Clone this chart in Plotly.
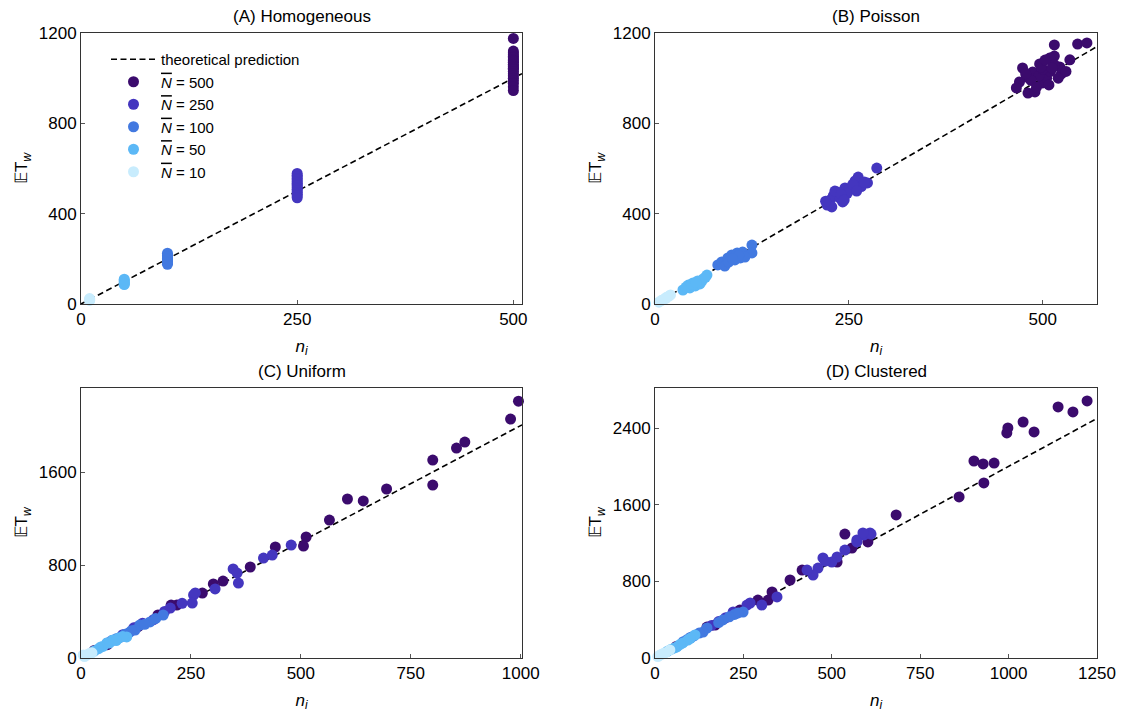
import plotly.graph_objects as go

W, H = 1122, 713
FONT = "Liberation Sans, Arial, sans-serif"

N_LEVELS = [500, 250, 100, 50, 10]
COLORS = {500: "#3b0b6d", 250: "#4436bf", 100: "#4279e0", 50: "#5cb8f6", 10: "#c8ecfd"}
THEORY_SLOPE = 2.0
PANEL_TITLES = ["(A) Homogeneous", "(B) Poisson", "(C) Uniform", "(D) Clustered"]

# ---------------- (A) Homogeneous: n_i == N ----------------
A_y = {
    500: [1176, 1120, 1112, 1104, 1096, 1090, 1082, 1076, 1070, 1062, 1055, 1050, 1044, 1038,
          1030, 1020, 1010, 1000, 990, 978, 962, 945],
    250: [578, 570, 563, 556, 549, 541, 535, 528, 522, 515, 508, 500, 493, 486, 478, 470],
    100: [225, 216, 208, 201, 195, 188, 181, 176],
    50: [110, 104, 99, 94, 89, 86],
    10: [24, 21, 18, 16],
}

# ---------------- (B) Poisson ----------------
B_x = {
    500: [515, 545, 557, 535, 515, 509, 474, 496, 487, 479, 470, 466, 481, 490, 500, 524, 522,
          505, 495, 510, 500, 485, 492, 515, 530, 498, 478, 520, 508, 503, 512],
    250: [286, 274, 262, 254, 245, 242, 235, 226, 222, 228, 230, 238, 250, 258, 266, 220, 232,
          248, 270, 240, 255, 244, 260],
    100: [81, 86, 94, 99, 106, 113, 110, 125, 125, 90, 103, 116, 95, 108, 100],
    50: [36, 43, 49, 55, 62, 67, 52, 58, 45, 40, 47, 60, 65, 53],
    10: [5, 8, 12, 15, 18, 20, 10, 14],
}
B_y = {
    500: [1147, 1151, 1156, 1081, 1098, 1089, 1045, 1063, 1027, 1005, 983, 957, 934, 939, 979,
          1019, 1050, 1000, 1010, 1030, 1040, 990, 960, 1060, 1030, 1050, 1020, 1000, 970, 1080, 1045],
    250: [602, 536, 562, 518, 514, 452, 496, 461, 438, 430, 480, 470, 505, 545, 520, 455, 500,
          490, 540, 485, 530, 460, 500],
    100: [173, 186, 204, 217, 226, 230, 204, 261, 226, 168, 195, 208, 185, 215, 200],
    50: [62, 84, 93, 102, 111, 128, 80, 89, 71, 75, 88, 100, 118, 95],
    10: [8, 15, 22, 30, 35, 40, 18, 25],
}

# ---------------- (C) Uniform ----------------
C_x = {
    500: [995, 977, 873, 854, 800, 800, 695, 642, 606, 565, 512, 506, 442, 385, 323, 301, 276,
          218, 205, 175, 130, 60, 30],
    250: [478, 415, 435, 346, 355, 358, 305, 256, 253, 203, 260, 230, 190, 165, 140, 120, 95],
    100: [187, 157, 134, 123, 170, 145, 110, 100, 90, 80, 70, 60, 115],
    50: [104, 73, 59, 50, 45, 85, 95, 65, 40, 30, 80],
    10: [5, 10, 15, 20, 8, 25],
}
C_y = {
    500: [2210, 2056, 1858, 1806, 1703, 1488, 1454, 1351, 1368, 1187, 1041, 963, 955, 783, 662,
          637, 559, 456, 455, 370, 270, 115, 65],
    250: [972, 860, 886, 766, 731, 645, 594, 542, 473, 430, 560, 470, 400, 330, 300, 260, 200],
    100: [370, 310, 284, 241, 340, 290, 220, 205, 180, 165, 150, 130, 235],
    50: [181, 155, 129, 100, 95, 170, 185, 130, 80, 60, 150],
    10: [26, 20, 30, 40, 12, 45],
}

# ---------------- (D) Clustered ----------------
D_x = {
    500: [1222, 1182, 1140, 1072, 1041, 998, 995, 959, 928, 902, 930, 860, 682, 537, 602, 557,
          515, 416, 382, 331, 320, 291, 240, 170, 147, 100, 60],
    250: [611, 591, 571, 608, 588, 571, 537, 515, 500, 475, 481, 461, 447, 430, 345, 302, 269,
          260, 221, 200, 180, 160],
    100: [249, 235, 225, 210, 192, 180, 147, 136, 125, 110, 100, 90, 80],
    50: [113, 93, 79, 62, 70, 55, 45, 35, 100],
    10: [42, 14, 20, 30, 8, 25],
}
D_y = {
    500: [2683, 2568, 2620, 2359, 2463, 2401, 2349, 2035, 2025, 2056, 1827, 1681, 1493, 1294,
          1211, 1148, 1002, 918, 814, 689, 605, 605, 500, 344, 323, 210, 120],
    250: [1294, 1284, 1232, 1305, 1305, 1211, 1127, 1054, 1002, 1044, 1010, 939, 866, 918, 637,
          553, 574, 553, 480, 420, 380, 340],
    100: [480, 470, 455, 430, 397, 370, 313, 271, 260, 230, 215, 190, 170],
    50: [240, 188, 157, 115, 140, 105, 90, 70, 205],
    10: [84, 31, 40, 55, 15, 50],
}

A_x = {n: [n] * len(A_y[n]) for n in N_LEVELS}
panels = [(A_x, A_y), (B_x, B_y), (C_x, C_y), (D_x, D_y)]

x_ranges = [[0, 510], [0, 570], [0, 1003], [0, 1250]]
y_ranges = [[0, 1200], [0, 1200], [0, 2323], [0, 2818]]
x_ticks = [[0, 250, 500], [0, 250, 500], [0, 250, 500, 750, 1000], [0, 250, 500, 750, 1000, 1250]]
y_ticks = [[0, 400, 800, 1200], [0, 400, 800, 1200], [0, 800, 1600], [0, 800, 1600, 2400]]

# plot-area pixel boxes (left, right, top, bottom)
boxes = [(81, 522, 33, 304), (655, 1097, 33, 304), (81, 522, 388, 658), (655, 1097, 388, 658)]


def fx(px):
    return px / W


def fy(py):
    return 1 - py / H


fig = go.Figure()

for i, (px, py) in enumerate(panels):
    sfx = "" if i == 0 else str(i + 1)
    xa, ya = "x" + sfx, "y" + sfx
    xmax = x_ranges[i][1]
    fig.add_trace(go.Scatter(
        x=[0, xmax], y=[0, THEORY_SLOPE * xmax], mode="lines",
        line=dict(color="black", width=1.6, dash="6px,3.5px"),
        name="theoretical prediction", showlegend=(i == 0), xaxis=xa, yaxis=ya,
        hoverinfo="skip"))
    for n in N_LEVELS:
        fig.add_trace(go.Scatter(
            x=px[n], y=py[n], mode="markers",
            marker=dict(color=COLORS[n], size=11, line=dict(width=0)),
            name="<span style='text-decoration:overline'><i>N</i></span> = %d" % n,
            showlegend=(i == 0), xaxis=xa, yaxis=ya, cliponaxis=False))

axis_common = dict(showline=True, linecolor="#333333", linewidth=1, mirror=True,
                   ticks="inside", ticklen=4, tickcolor="#555555", showgrid=False,
                   zeroline=False, automargin=False,
                   tickfont=dict(family=FONT, size=17, color="black"))

layout = dict(width=W, height=H,
              margin=dict(l=0, r=0, t=0, b=0, pad=0, autoexpand=False),
              plot_bgcolor="white", paper_bgcolor="white",
              font=dict(family=FONT, size=17, color="black"),
              legend=dict(x=fx(106), y=fy(43), xanchor="left", yanchor="top",
                          bgcolor="rgba(0,0,0,0)", font=dict(family=FONT, size=15),
                          itemwidth=45, tracegroupgap=0))

annotations = []
for i, (l, r, t, b) in enumerate(boxes):
    sfx = "" if i == 0 else str(i + 1)
    layout["xaxis" + sfx] = dict(axis_common, domain=[fx(l), fx(r)], range=x_ranges[i],
                                 tickvals=x_ticks[i], anchor="y" + sfx,
                                 title=dict(text="<i>n<sub>i</sub></i>", standoff=11,
                                            font=dict(family=FONT, size=17)))
    layout["yaxis" + sfx] = dict(axis_common, domain=[fy(b), fy(t)], range=y_ranges[i],
                                 tickvals=y_ticks[i], anchor="x" + sfx,
                                 title=dict(text="𝔼T<sub><i>w</i></sub>", standoff=6,
                                            font=dict(family=FONT, size=17)))
    annotations.append(dict(text=PANEL_TITLES[i], x=fx((l + r) / 2), y=fy(t - 5),
                            xref="paper", yref="paper", xanchor="center", yanchor="bottom",
                            showarrow=False, font=dict(family=FONT, size=17, color="black")))
layout["annotations"] = annotations

fig.update_layout(**layout)
fig.write_html("out.html",
               post_script="document.body.style.margin='0';document.body.style.overflow='hidden';")
